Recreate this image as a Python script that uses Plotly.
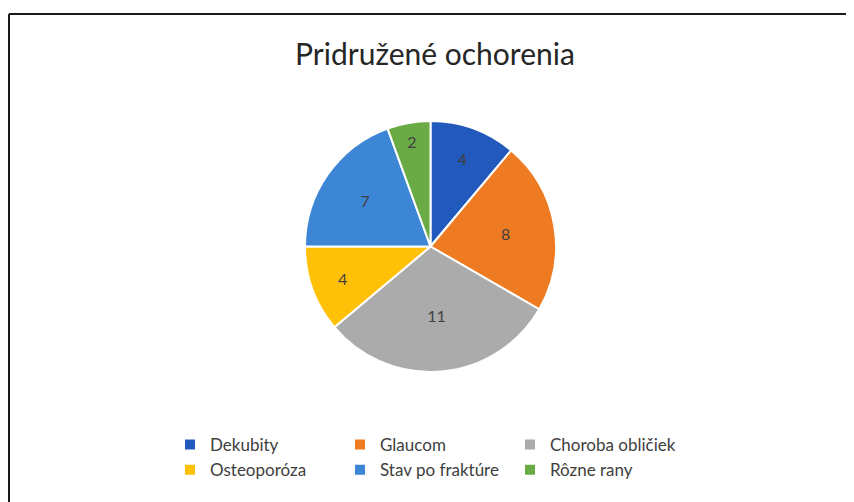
import plotly.graph_objects as go

labels = ["Dekubity", "Glaucom", "Choroba obličiek", "Osteoporóza", "Stav po fraktúre", "Rôzne rany"]
values = [4, 8, 11, 4, 7, 2]
colors = ["#2259BD", "#EE7A22", "#ABABAB", "#FFC107", "#3C86D5", "#6AAB45"]

W, H = 854, 502
OFF = 8  # page body margin of the html file
# plot area kept narrow so that the horizontal legend wraps after 3 items
ML, MR = 160, 94
PW = W - ML - MR


def px(x):
    return (x - OFF - ML) / PW


def py(y):
    return 1 - (y - OFF) / H


fig = go.Figure(go.Pie(
    labels=labels,
    values=values,
    sort=False,
    direction="clockwise",
    rotation=0,
    marker=dict(colors=colors, line=dict(color="white", width=2)),
    textinfo="value",
    textposition="inside",
    insidetextorientation="horizontal",
    textfont=dict(family="Lato", size=16, color="#404040"),
    hoverinfo="label+value",
    domain=dict(x=[px(305), px(556)], y=[py(372), py(121)]),
))

# frame of the scanned chart
fig.add_shape(type="line", xref="paper", yref="paper",
              x0=px(9), y0=py(14), x1=px(870), y1=py(14),
              line=dict(color="#1a1a1a", width=2))
fig.add_shape(type="line", xref="paper", yref="paper",
              x0=px(9), y0=py(14), x1=px(9), y1=py(520),
              line=dict(color="#1a1a1a", width=2))
fig.add_shape(type="line", xref="paper", yref="paper",
              x0=px(852), y0=py(16), x1=px(852), y1=py(520),
              line=dict(color="#dddddd", width=1))

fig.update_layout(
    width=W, height=H,
    margin=dict(l=ML, r=MR, t=0, b=0, autoexpand=False),
    paper_bgcolor="white",
    plot_bgcolor="white",
    title=dict(text="Pridružené ochorenia", x=(435 - OFF) / W, y=py(54),
               xref="container", yref="container",
               xanchor="center", yanchor="middle",
               font=dict(family="Lato", size=30, color="#262626")),
    showlegend=True,
    legend=dict(
        orientation="h",
        x=px(170), y=py(427), xanchor="left", yanchor="top",
        entrywidth=125, entrywidthmode="pixels",
        font=dict(family="Lato", size=17, color="#404040"),
        traceorder="normal",
    ),
)

fig.write_html("out.html")
